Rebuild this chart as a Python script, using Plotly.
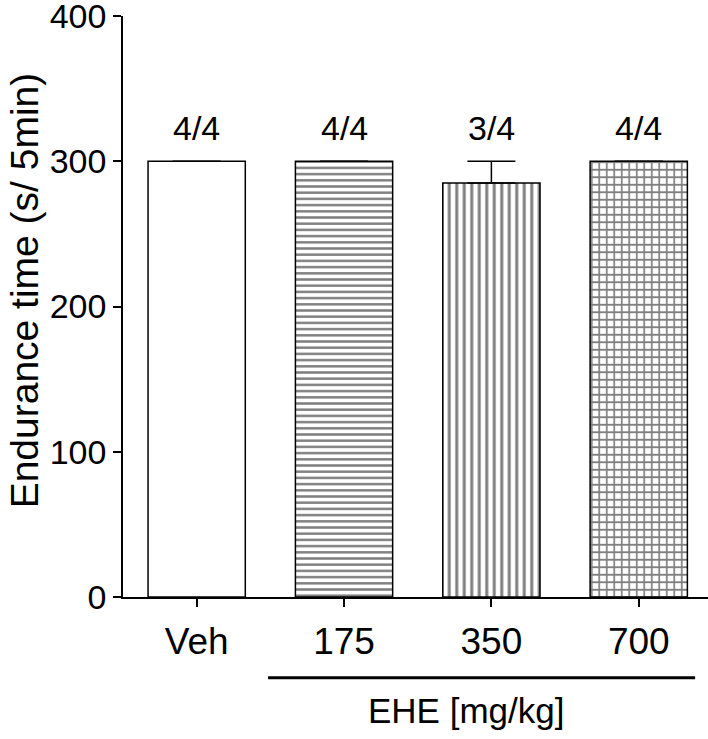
import plotly.graph_objects as go

# Endurance time per group (mean, upper SEM) and survivor counts
groups = ['Veh', '175', '350', '700']
endurance = [300, 300, 285, 300]
sem_up = [0, 0, 15, 0]
survivors = ['4/4', '4/4', '3/4', '4/4']
patterns = ['', '-', '|', '+']

FONT = 'Liberation Sans, Arial, sans-serif'

fig = go.Figure()
fig.add_trace(go.Bar(
    x=groups, y=endurance, width=0.66,
    marker=dict(color='white', line=dict(color='black', width=1.5),
                pattern=dict(shape=patterns, fgcolor='black', bgcolor='white',
                             size=[6, 6.2, 7.5, 7.5], solidity=0.4, fillmode='overlay')),
    error_y=dict(type='data', symmetric=False, array=sem_up,
                 arrayminus=[0, 0, 0, 0], color='black', thickness=1.5, width=24),
    showlegend=False,
))

# n survived labels above bars
for i, (v, e, s) in enumerate(zip(endurance, sem_up, survivors)):
    fig.add_annotation(x=i, y=v + e, text=s, showarrow=False, yanchor='bottom',
                       yshift=12, font=dict(size=34, color='black', family=FONT))

# y title as annotation (sits a bit above the axis centre in the original)
fig.add_annotation(xref='paper', yref='paper', x=-0.169, y=0.528, textangle=-90,
                   xanchor='center', yanchor='middle',
                   text='Endurance time (s/ 5min)', showarrow=False,
                   font=dict(size=39, color='black', family=FONT))

# bracket under the EHE doses
fig.add_shape(type='line', xref='paper', yref='paper', x0=0.248, x1=0.978,
              y0=-0.139, y1=-0.139, line=dict(color='black', width=3))
fig.add_annotation(xref='paper', yref='paper', x=0.586, y=-0.232, text='EHE [mg/kg]',
                   showarrow=False, font=dict(size=35, color='black', family=FONT))

fig.update_layout(
    width=708, height=739,
    margin=dict(l=123, r=0, t=16, b=142),
    plot_bgcolor='white', paper_bgcolor='white',
    font=dict(family=FONT, color='black', size=36),
    xaxis=dict(type='category', range=[-0.5, 3.47], showline=True, linecolor='black',
               linewidth=1.5, ticks='outside', ticklen=8, tickwidth=1.5, tickcolor='black',
               ticklabelstandoff=3, showgrid=False, zeroline=False, automargin=False,
               tickfont=dict(size=37)),
    yaxis=dict(range=[0, 400], tickvals=[0, 100, 200, 300, 400], showline=True,
               linecolor='black', linewidth=1.5, ticks='outside', ticklen=8,
               tickwidth=1.5, tickcolor='black', showgrid=False, zeroline=False,
               automargin=False, ticklabeloverflow='allow', tickfont=dict(size=34)),
)

# drop the browser's default page margin so the figure sits at the window origin
fig.write_html('out.html', config={'displayModeBar': False},
               post_script="document.body.style.margin='0';")
